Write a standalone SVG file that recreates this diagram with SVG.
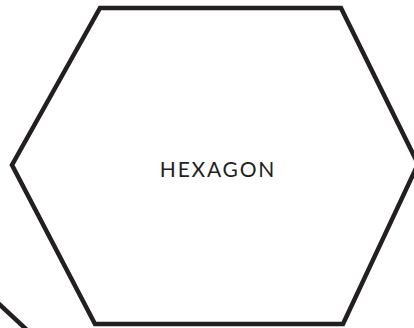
<svg xmlns="http://www.w3.org/2000/svg" width="414" height="328" viewBox="0 0 414 328">
  <style>
    .shape { fill: none; stroke: #231f20; stroke-width: 4.5; stroke-linejoin: miter; }
    .label { font-family: Lato, "Liberation Sans", sans-serif; font-size: 21px; fill: #231f20; letter-spacing: 1.8px; }
  </style>
  <rect width="414" height="328" fill="#ffffff"/>
  <g id="hexagon">
    <polygon class="shape" points="100,8 341,8 418,164 343,324 95,324 12,165"/>
    <text class="label" x="218" y="177" text-anchor="middle">HEXAGON</text>
  </g>
  <g id="partial-shape">
    <path class="shape" d="M -2,303 L 27,330"/>
  </g>
</svg>
